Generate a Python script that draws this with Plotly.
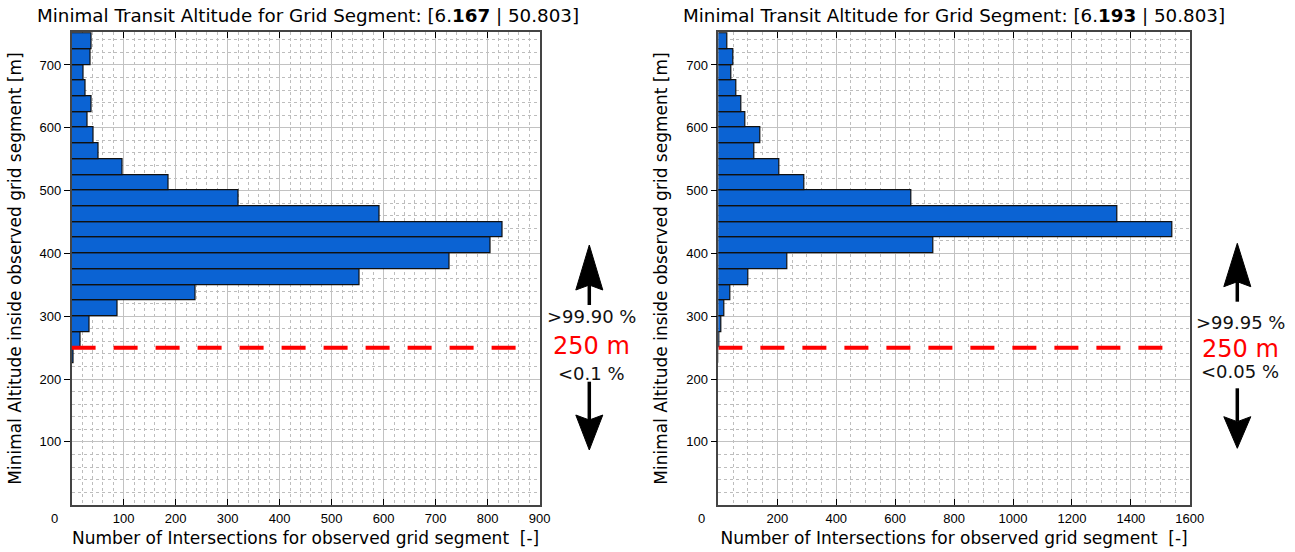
import plotly.graph_objects as go

# Altitude bins (lower edges, metres), 25 m wide
bin_lower = [225, 250, 275, 300, 325, 350, 375, 400, 425, 450, 475,
             500, 525, 550, 575, 600, 625, 650, 675, 700, 725]
bin_width = 25

# Intersection counts per altitude bin
counts_left = [3, 18, 35, 89, 238, 553, 726, 806, 828, 593, 321,
               187, 99, 51, 42, 30, 39, 26, 24, 37, 39]
counts_right = [1, 5, 11, 20, 40, 102, 235, 731, 1540, 1353, 654,
                292, 208, 121, 143, 93, 77, 61, 45, 51, 30]

threshold = 250
y_ticks = [100, 200, 300, 400, 500, 600, 700]
x_ticks_left = [100, 200, 300, 400, 500, 600, 700, 800, 900]
x_ticks_right = [200, 400, 600, 800, 1000, 1200, 1400, 1600]

titles = ["Minimal Transit Altitude for Grid Segment: [6.<b>167</b> | 50.803]",
          "Minimal Transit Altitude for Grid Segment: [6.<b>193</b> | 50.803]"]
above_labels = [">99.90 %", ">99.95 %"]
below_labels = ["<0.1 %", "<0.05 %"]

W, H = 1295, 552
BAR_BLUE = "#0b63d3"
TEXT_FONT = "DejaVu Sans"
TICK_FONT = "Liberation Sans"

centers = [b + bin_width / 2 for b in bin_lower]

fig = go.Figure()

def px_x(p):
    return p / W

def px_y(p):
    return 1 - p / H

dom_y = [px_y(504.7), px_y(32.3)]
panels = [
    dict(xa="x", ya="y", dom=[px_x(71.6), px_x(539.6)], xmax=900,
         counts=counts_left, ticks=x_ticks_left, minor=20, line_end=870,
         title_cx=308),
    dict(xa="x2", ya="y2", dom=[px_x(718.4), px_x(1189.8)], xmax=1600,
         counts=counts_right, ticks=x_ticks_right, minor=50, line_end=1543,
         title_cx=954),
]

for i, p in enumerate(panels):
    fig.add_trace(go.Bar(
        x=p["counts"], y=centers, base=0, width=bin_width, orientation="h",
        marker=dict(color=BAR_BLUE, line=dict(color="#101010", width=1.2)),
        xaxis=p["xa"], yaxis=p["ya"], showlegend=False,
    ))
    # threshold line
    fig.add_shape(type="line", xref=p["xa"], yref=p["ya"],
                  x0=0, x1=p["line_end"], y0=threshold, y1=threshold,
                  line=dict(color="#ff0000", width=4, dash="24px,18px"),
                  layer="above")

grid_major = "#c2c2c2"
grid_minor = "#bdbdbd"

layout = dict(
    width=W, height=H, margin=dict(l=0, r=0, t=0, b=0),
    paper_bgcolor="white", plot_bgcolor="white", bargap=0,
    font=dict(family=TICK_FONT, size=13, color="#000000"),
)
for i, p in enumerate(panels):
    sfx = "" if i == 0 else "2"
    layout["xaxis" + sfx] = dict(
        domain=p["dom"], anchor="y" + sfx, range=[0, p["xmax"]],
        tickvals=p["ticks"], ticks="inside", ticklen=6, tickcolor="#000",
        showline=True, linecolor="#444", linewidth=1.5, mirror="ticks",
        showgrid=True, gridcolor=grid_major, gridwidth=1,
        minor=dict(dtick=p["minor"], showgrid=True, gridcolor=grid_minor,
                   griddash="dot", gridwidth=1),
        zeroline=False, ticklabelstandoff=1,
        tickfont=dict(family=TICK_FONT, size=13),
        title=dict(text="Number of Intersections for observed grid segment  [-]",
                   font=dict(family=TEXT_FONT, size=17), standoff=7),
        automargin=False,
    )
    layout["yaxis" + sfx] = dict(
        domain=dom_y, anchor="x" + sfx, range=[0, 752],
        tickvals=y_ticks, ticks="outside", ticklen=6, tickcolor="#000",
        showline=True, linecolor="#444", linewidth=1.5, mirror=True,
        showgrid=True, gridcolor=grid_major, gridwidth=1,
        minor=dict(dtick=20, showgrid=True, gridcolor=grid_minor,
                   griddash="dot", gridwidth=1),
        zeroline=False,
        tickfont=dict(family=TICK_FONT, size=13),
        title=dict(text="Minimal Altitude inside observed grid segment [m]",
                   font=dict(family=TEXT_FONT, size=17), standoff=14),
        automargin=False,
    )
    # right-hand inside ticks
    layout["yaxis" + str(3 + i)] = dict(
        domain=dom_y, anchor="x" + sfx, overlaying="y" + sfx, side="right",
        range=[0, 752], tickvals=y_ticks, ticks="inside", ticklen=6,
        tickcolor="#000", showticklabels=False, showgrid=False,
        showline=False, zeroline=False,
    )
fig.update_layout(**layout)

annotations = []
for i, p in enumerate(panels):
    xa, ya = p["xa"], p["ya"]
    annotations.append(dict(
        text=titles[i], xref="paper", yref="paper", x=px_x(p["title_cx"]),
        y=px_y(15), xanchor="center", yanchor="middle", showarrow=False,
        font=dict(family=TEXT_FONT, size=18.3, color="#000")))
    annotations.append(dict(
        text="0", xref=xa, yref=ya, x=0, y=0, xshift=-17, yshift=-14,
        showarrow=False, font=dict(family=TICK_FONT, size=13, color="#000")))

# threshold labels beside each panel
label_pos = [dict(cx=591.7, up=-31, dn=26, red=-2),
             dict(cx=1240.0, up=-25, dn=24, red=1)]
for i, p in enumerate(panels):
    lp = label_pos[i]
    for txt, dy, col, size in [(above_labels[i], lp["up"], "#111", 18),
                               ("250 m", lp["red"], "#ff0000", 24),
                               (below_labels[i], lp["dn"], "#111", 18)]:
        annotations.append(dict(
            text=txt, xref="paper", yref=p["ya"], x=px_x(lp["cx"]), y=threshold,
            yshift=-dy, xanchor="center", yanchor="middle", showarrow=False,
            font=dict(family=TEXT_FONT, size=size, color=col)))
fig.update_layout(annotations=annotations)

# direction arrows (pixel geometry converted to paper coordinates)
arrows = [
    dict(cx=589.3, up=(245, 290, 305), dn=(381.7, 415, 450)),
    dict(cx=1237.3, up=(243.3, 286.7, 301.7), dn=(388.3, 416.7, 448.3)),
]
half_w, notch = 13.5, 5
for a in arrows:
    cx = a["cx"]
    tip, base, tail = a["up"]
    head = (f"M {px_x(cx)},{px_y(tip)} L {px_x(cx + half_w)},{px_y(base)} "
            f"L {px_x(cx)},{px_y(base - notch)} L {px_x(cx - half_w)},{px_y(base)} Z")
    fig.add_shape(type="path", xref="paper", yref="paper", path=head,
                  fillcolor="#000", line=dict(color="#000", width=1))
    fig.add_shape(type="line", xref="paper", yref="paper",
                  x0=px_x(cx), x1=px_x(cx), y0=px_y(base - notch), y1=px_y(tail),
                  line=dict(color="#000", width=3.5))
    start, hbase, tip = a["dn"]
    head = (f"M {px_x(cx)},{px_y(tip)} L {px_x(cx + half_w)},{px_y(hbase)} "
            f"L {px_x(cx)},{px_y(hbase + notch)} L {px_x(cx - half_w)},{px_y(hbase)} Z")
    fig.add_shape(type="path", xref="paper", yref="paper", path=head,
                  fillcolor="#000", line=dict(color="#000", width=1))
    fig.add_shape(type="line", xref="paper", yref="paper",
                  x0=px_x(cx), x1=px_x(cx), y0=px_y(start), y1=px_y(hbase + notch),
                  line=dict(color="#000", width=3.5))

fig.write_html("out.html")
